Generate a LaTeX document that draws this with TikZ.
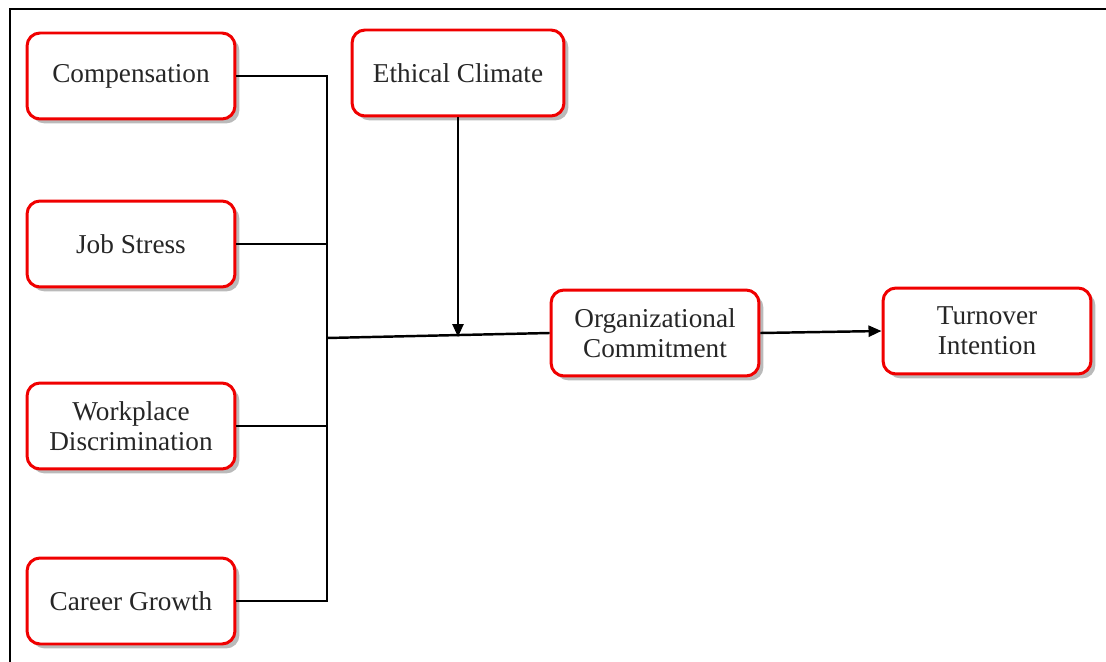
\documentclass[tikz,border=0pt]{standalone}
\usepackage{fontspec}
\setmainfont{Liberation Serif}
\usetikzlibrary{arrows.meta,shadows}
\definecolor{boxred}{RGB}{240,0,0}

\begin{document}
\begin{tikzpicture}[x=0.02cm,y=-0.02cm,
  factor/.style={draw=boxred, line width=1.7pt, rounded corners=0.26cm, fill=white,
    minimum width=4.16cm, minimum height=1.72cm, align=center,
    font=\fontsize{15.5}{17}\selectfont, text=black!85,
    drop shadow={shadow xshift=2.5pt, shadow yshift=-2.5pt, fill=black!45, opacity=0.6}},
  link/.style={line width=1.4pt},
  arr/.style={line width=1.4pt, -{Triangle[length=0.26cm,width=0.22cm]}}]
  \useasboundingbox (0,0) rectangle (1106,662);
  \draw[line width=1.3pt] (10,9) rectangle (1140,700);

  \node[factor] (comp) at (131,76) {Compensation};
  \node[factor] (job) at (131,244) {Job Stress};
  \node[factor] (wd) at (131,426) {Workplace\\Discrimination};
  \node[factor] (cg) at (131,601) {Career Growth};
  \node[factor, minimum width=4.24cm] (eth) at (458,73) {Ethical Climate};
  \node[factor] (oc) at (655,333) {Organizational\\Commitment};
  \node[factor] (ti) at (987,331) {Turnover\\Intention};

  % Antecedents joined on one line
  \coordinate (bus) at (327,338);
  \draw[link] (comp.east) -| (bus);
  \draw[link] (cg.east) -| (bus);
  \draw[link] (job.east) -- (job.east -| bus);
  \draw[link] (wd.east) -- (wd.east -| bus);
  \draw[link] (bus) -- (oc.west);

  % Moderator and outcome
  \draw[arr] (eth.south) -- (eth.south |- 0,337);
  \draw[arr] (oc.east) -- (ti.west);
\end{tikzpicture}
\end{document}
